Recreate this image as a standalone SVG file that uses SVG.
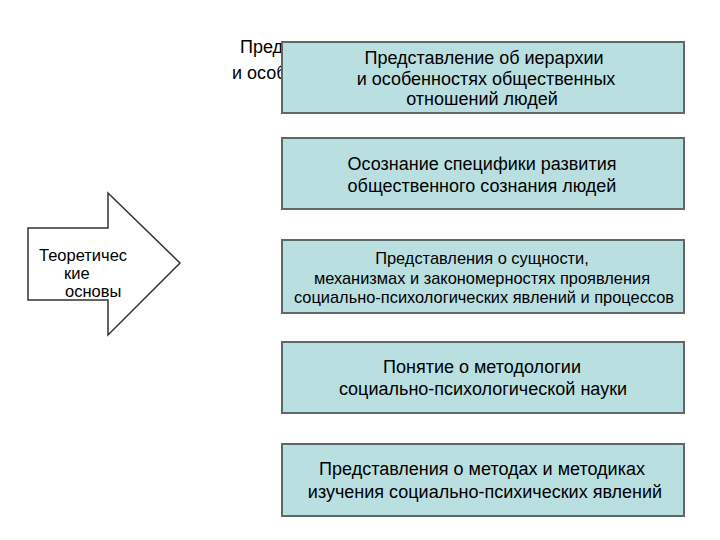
<svg xmlns="http://www.w3.org/2000/svg" width="720" height="540" viewBox="0 0 720 540">
<style>
text{font-family:"Liberation Sans",Arial,sans-serif;fill:#000}
.box rect{fill:#b9dfe0;stroke:#5f6868;stroke-width:2}
.t{font-size:18px;text-anchor:middle}
.s{font-size:16.4px;text-anchor:middle}
</style>
<defs>
<clipPath id="cl"><rect x="0" y="0" width="282" height="120"/></clipPath>
</defs>
<rect width="720" height="540" fill="#fff"/>
<g id="hidden-title" clip-path="url(#cl)">
<text x="240" y="53" font-size="18">Пред</text>
<text x="232" y="79" font-size="18">и особ</text>
</g>
<g id="arrow">
<path d="M28,228 H108 V193 L180,263 L108,335 V300 H28 Z" fill="#fff" stroke="#333" stroke-width="1.5"/>
<text x="39" y="261" font-size="16.5">Теоретичес</text>
<text x="64" y="279" font-size="16.5">кие</text>
<text x="65" y="297" font-size="16.5">основы</text>
</g>
<g id="connectors"></g>
<g id="box1" class="box">
<rect x="282" y="42" width="402" height="71"/>
<text class="t" x="484" y="64">Представление об иерархии</text>
<text class="t" x="486" y="85">и особенностях общественных</text>
<text class="t" x="482" y="105">отношений людей</text>
</g>
<g id="box2" class="box">
<rect x="282" y="138" width="402" height="71"/>
<text class="t" x="482" y="170">Осознание специфики развития</text>
<text class="t" x="482" y="192">общественного сознания людей</text>
</g>
<g id="box3" class="box">
<rect x="282" y="240" width="402" height="73"/>
<text class="s" x="482" y="264">Представления о сущности,</text>
<text class="s" x="482" y="284">механизмах и закономерностях проявления</text>
<text class="s" x="484" y="303">социально-психологических явлений и процессов</text>
</g>
<g id="box4" class="box">
<rect x="282" y="342" width="402" height="71"/>
<text class="t" x="482" y="373">Понятие о методологии</text>
<text class="t" x="483" y="395">социально-психологической науки</text>
</g>
<g id="box5" class="box">
<rect x="282" y="444" width="402" height="72"/>
<text class="t" x="482" y="475">Представления о методах и методиках</text>
<text class="t" x="485" y="498">изучения социально-психических явлений</text>
</g>
</svg>
